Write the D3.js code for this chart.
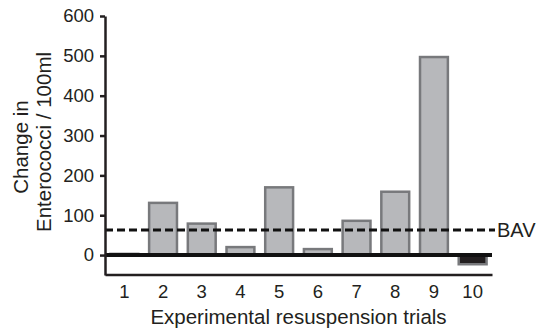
<!DOCTYPE html>
<html>
<head>
<meta charset="utf-8">
<script src="https://cdn.jsdelivr.net/npm/d3@7"></script>
<style>
  body { margin: 0; background: #fff; }
  svg text { font-family: Arial, "Liberation Sans", sans-serif; fill: #231f20; }
</style>
</head>
<body>
<div id="chart"></div>
<script>
// trial numbers and change in counts
var trials = ['1', '2', '3', '4', '5', '6', '7', '8', '9', '10'];
var changes = [3, 131, 79, 20, 170, 15, 86, 159, 497, -23];
var y_ticks = [0, 100, 200, 300, 400, 500, 600];
var bav = 63;

var width = 539;
var height = 329;

var svg = d3.select('#chart')
	.append('svg')
	.attr('width', width)
	.attr('height', height);

// scales
var x_scale = d3.scaleBand()
	.domain(trials)
	.range([105, 492])
	.paddingInner(0.28)
	.paddingOuter(0.14);

var y_scale = d3.scaleLinear()
	.domain([-50, 600])
	.range([275, 16]);

// bars
svg.selectAll('rect.bar')
	.data(changes)
	.enter()
	.append('rect')
	.attr('class', 'bar')
	.attr('x', function (d, i) { return x_scale(trials[i]); })
	.attr('width', x_scale.bandwidth())
	.attr('y', function (d) { return y_scale(Math.max(d, 0)); })
	.attr('height', function (d) { return Math.abs(y_scale(d) - y_scale(0)); })
	.attr('fill', function (d) { return d < 0 ? '#231f20' : '#b7b8bb'; })
	.attr('stroke', '#78797c')
	.attr('stroke-width', 2.5);

// zero line
svg.append('line')
	.attr('x1', 105)
	.attr('x2', 492)
	.attr('y1', y_scale(0))
	.attr('y2', y_scale(0))
	.attr('stroke', '#111')
	.attr('stroke-width', 4);

// BAV dashed line
svg.append('line')
	.attr('x1', 105)
	.attr('x2', 495)
	.attr('y1', y_scale(bav))
	.attr('y2', y_scale(bav))
	.attr('stroke', '#111')
	.attr('stroke-width', 3)
	.attr('stroke-dasharray', '8,4');

svg.append('text')
	.attr('x', 497)
	.attr('y', y_scale(bav) + 7)
	.style('font-size', '20px')
	.text('BAV');

// axes
var y_axis = d3.axisLeft(y_scale)
	.tickValues(y_ticks)
	.tickSize(5)
	.tickSizeOuter(0)
	.tickPadding(6);

var gy = svg.append('g')
	.attr('transform', 'translate(105,0)')
	.call(y_axis);
gy.select('.domain').attr('stroke', '#231f20').attr('stroke-width', 2.5);
gy.selectAll('.tick line').attr('stroke', '#231f20').attr('stroke-width', 2.5);
gy.selectAll('.tick text').style('font-size', '18.5px').style('font-family', 'Arial, "Liberation Sans", sans-serif');

var x_axis = d3.axisBottom(x_scale)
	.tickSize(0)
	.tickSizeOuter(0)
	.tickPadding(10);

var gx = svg.append('g')
	.attr('transform', 'translate(0,274.5)')
	.call(x_axis);
gx.select('.domain').attr('stroke', '#231f20').attr('stroke-width', 2.5);
gx.selectAll('.tick text').style('font-size', '18.5px').style('font-family', 'Arial, "Liberation Sans", sans-serif');

// titles
svg.append('text')
	.attr('x', 298.5)
	.attr('y', 324)
	.attr('text-anchor', 'middle')
	.style('font-size', '20.5px')
	.text('Experimental resuspension trials');

svg.append('text')
	.attr('transform', 'translate(27.5,147) rotate(-90)')
	.attr('text-anchor', 'middle')
	.style('font-size', '20.5px')
	.text('Change in');

svg.append('text')
	.attr('transform', 'translate(50.5,142) rotate(-90)')
	.attr('text-anchor', 'middle')
	.style('font-size', '20.5px')
	.text('Enterococci / 100ml');
</script>
</body>
</html>
